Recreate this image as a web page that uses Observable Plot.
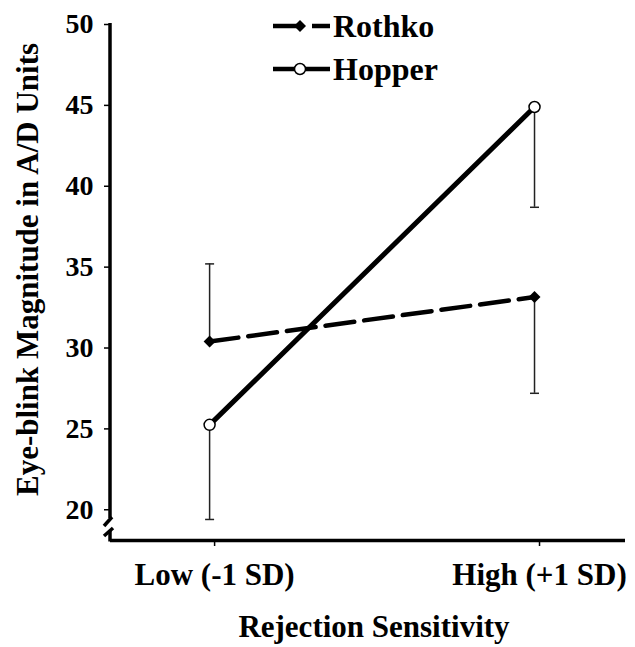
<!DOCTYPE html>
<html>
<head>
<meta charset="utf-8">
<script src="https://cdn.jsdelivr.net/npm/d3@7"></script>
<script src="https://cdn.jsdelivr.net/npm/@observablehq/plot@0.6"></script>
<style>
  html, body { margin: 0; padding: 0; background: white; }
  #chart { width: 635px; height: 647px; }
</style>
</head>
<body>
<div id="chart"></div>
<script>
// ---- Data ----
const categories = ["Low (-1 SD)", "High (+1 SD)"];
const sdLevels = [-1, 1];
const seriesNames = ["Rothko", "Hopper"];
const rothkoValues = [30.4, 33.15];
const hopperValues = [25.25, 44.9];
const rothkoErrorEnds = [35.2, 27.2];
const hopperErrorEnds = [19.4, 38.7];
const yTicks = [20, 25, 30, 35, 40, 45, 50];
const yTitle = "Eye-blink Magnitude in A/D Units";
const xTitle = "Rejection Sensitivity";

const rows = [];
sdLevels.forEach((sd, i) => {
  rows.push({series: "Rothko", sd, value: rothkoValues[i], end: rothkoErrorEnds[i]});
  rows.push({series: "Hopper", sd, value: hopperValues[i], end: hopperErrorEnds[i]});
});
const rothkoRows = rows.filter(d => d.series === "Rothko");
const hopperRows = rows.filter(d => d.series === "Hopper");

const FONT = "'Liberation Serif', 'Times New Roman', Times, 'Nimbus Roman', 'Nimbus Roman No9 L', FreeSerif, 'DejaVu Serif', 'Noto Serif', serif";
const yMin = 18.1;

const capSymbol = { draw(ctx) { ctx.moveTo(-4.5, 0); ctx.lineTo(4.5, 0); } };

const plot = Plot.plot({
  width: 635,
  height: 647,
  marginLeft: 110,
  marginRight: 10,
  marginTop: 24,
  marginBottom: 107,
  style: {fontFamily: FONT, fontWeight: "bold", color: "black", background: "white", overflow: "visible"},
  x: {type: "linear", domain: [-1.61, 1.56]},
  y: {domain: [yMin, 50]},
  marks: [
    Plot.axisY({ticks: yTicks, tickSize: 6, tickPadding: 11, fontSize: 28, fontWeight: "bold", label: null, strokeWidth: 1.5}),
    Plot.axisX({ticks: sdLevels, tickFormat: d => categories[sdLevels.indexOf(d)], tickSize: 6, tickPadding: 16, fontSize: 31, fontWeight: "bold", label: null, strokeWidth: 1.5, dx: 5}),
    Plot.ruleY([yMin], {strokeWidth: 3.5}),
    Plot.text([yTitle], {frameAnchor: "left", textAnchor: "middle", rotate: -90, dx: -82, dy: -13, fontSize: 31, fontWeight: "bold"}),
    Plot.text([xTitle], {frameAnchor: "bottom", textAnchor: "middle", dy: 96, dx: 6, fontSize: 31, fontWeight: "bold"}),
    // error bars
    Plot.ruleX(rows, {x: "sd", y1: "value", y2: "end", stroke: "#222", strokeWidth: 1.5}),
    Plot.dot(rows, {x: "sd", y: "end", symbol: capSymbol, r: 5, stroke: "#222", strokeWidth: 1.5, fill: "none"}),
    // lines
    Plot.line(rothkoRows, {x: "sd", y: "value", stroke: "black", strokeWidth: 4.5, strokeDasharray: "29,10"}),
    Plot.line(hopperRows, {x: "sd", y: "value", stroke: "black", strokeWidth: 5}),
    // markers
    Plot.dot(rothkoRows, {x: "sd", y: "value", symbol: "diamond2", r: 5.4, fill: "black", stroke: "none"}),
    Plot.dot(hopperRows, {x: "sd", y: "value", symbol: "circle", r: 5.5, fill: "white", stroke: "black", strokeWidth: 1.5})
  ]
});

document.getElementById("chart").appendChild(plot);

// ---- Decorations: broken y-axis line and legend ----
const svg = d3.select(plot);
const ys = plot.scale("y");
const x0 = 110;
const yTop = ys.apply(50);
const yBot = ys.apply(yMin);
const g = svg.append("g").attr("stroke", "black").attr("stroke-width", 3.5).attr("fill", "none");
g.append("line").attr("x1", x0).attr("x2", x0).attr("y1", yTop - 1).attr("y2", yBot - 22);
g.append("line").attr("x1", x0 - 6).attr("y1", yBot - 14).attr("x2", x0 + 2).attr("y2", yBot - 23);
g.append("line").attr("x1", x0 - 6).attr("y1", yBot - 4).attr("x2", x0 + 3).attr("y2", yBot - 12);
g.append("line").attr("x1", x0).attr("x2", x0).attr("y1", yBot - 10).attr("y2", yBot + 1.5);

const legend = svg.append("g").attr("font-family", FONT).attr("font-weight", "bold").attr("font-size", 32).attr("text-anchor", "start");
const legendItems = [
  {name: seriesNames[0], y: 26, dash: "27,12", symbol: "diamond"},
  {name: seriesNames[1], y: 69, dash: null, symbol: "circle"}
];
legendItems.forEach(it => {
  const ln = legend.append("line").attr("x1", 273).attr("x2", 330).attr("y1", it.y).attr("y2", it.y)
    .attr("stroke", "black").attr("stroke-width", 4.5);
  if (it.dash) ln.attr("stroke-dasharray", it.dash);
  if (it.symbol === "diamond") {
    legend.append("path").attr("d", d3.symbol(d3.symbolDiamond2, 92)()).attr("transform", `translate(300,${it.y})`).attr("fill", "black");
  } else {
    legend.append("circle").attr("cx", 300).attr("cy", it.y).attr("r", 5.5).attr("fill", "white").attr("stroke", "black").attr("stroke-width", 1.5);
  }
  legend.append("text").attr("x", 333).attr("y", it.y + 11).attr("text-anchor", "start").text(it.name).attr("fill", "black");
});
</script>
</body>
</html>
